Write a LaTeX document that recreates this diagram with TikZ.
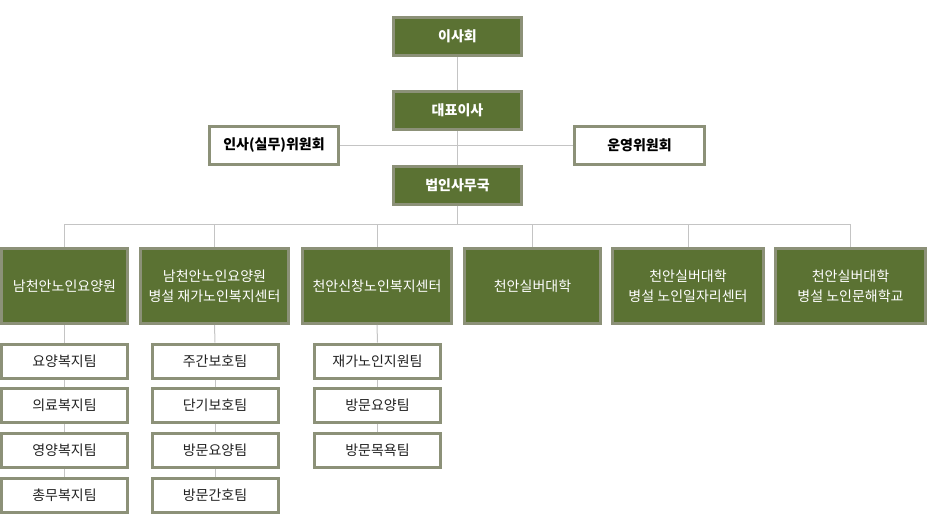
\documentclass[tikz,border=0pt]{standalone}
\usepackage{fontspec}
\setmainfont{Noto Sans CJK KR}
\definecolor{boxfill}{HTML}{5B7233}
\definecolor{boxedge}{HTML}{8C9178}
\definecolor{linkgray}{HTML}{C4C4C4}
\definecolor{teamtext}{HTML}{222222}
\begin{document}
\begin{tikzpicture}[x=1pt,y=-1pt,
  base/.style={draw=boxedge,line width=3pt,inner sep=0pt,align=center,
    font=\fontsize{14pt}{20pt}\selectfont},
  topbox/.style={base,fill=boxfill,text=white,font=\fontsize{14pt}{20pt}\selectfont\bfseries,
    minimum width=128pt,minimum height=38pt},
  combox/.style={base,fill=white,text=black,font=\fontsize{14pt}{20pt}\selectfont\bfseries,
    minimum height=38pt},
  orgbox/.style={base,fill=boxfill,text=white,minimum height=75pt},
  teambox/.style={base,fill=white,text=teamtext,minimum width=126pt,minimum height=34pt},
  link/.style={draw=linkgray,line width=1pt}]
\useasboundingbox (0,0) rectangle (927,530);

\node[topbox] (board) at (457.5,36.5) {이사회};
\node[topbox] (ceo) at (457.5,110.5) {대표이사};
\node[topbox] (office) at (457.5,185) {법인사무국};
\node[combox,minimum width=129pt] (hr) at (274,145.5) {인사(실무)위원회};
\node[combox,minimum width=130pt] (ops) at (639.5,145.5) {운영위원회};

\node[orgbox,minimum width=126pt] (b1) at (64.5,286) {남천안노인요양원};
\node[orgbox,minimum width=148pt] (b2) at (214.5,286) {남천안노인요양원\\병설 재가노인복지센터};
\node[orgbox,minimum width=149pt] (b3) at (377,286) {천안신창노인복지센터};
\node[orgbox,minimum width=136pt] (b4) at (532.5,286) {천안실버대학};
\node[orgbox,minimum width=151pt] (b5) at (688,286) {천안실버대학\\병설 노인일자리센터};
\node[orgbox,minimum width=150pt] (b6) at (850.5,286) {천안실버대학\\병설 노인문해학교};

\node[teambox] (t11) at (64.5,361) {요양복지팀};
\node[teambox] (t12) at (64.5,405.5) {의료복지팀};
\node[teambox] (t13) at (64.5,450.5) {영양복지팀};
\node[teambox] (t14) at (64.5,495.5) {총무복지팀};

\node[teambox] (t21) at (215,361) {주간보호팀};
\node[teambox] (t22) at (215,405.5) {단기보호팀};
\node[teambox] (t23) at (215,450.5) {방문요양팀};
\node[teambox] (t24) at (215,495.5) {방문간호팀};

\node[teambox] (t31) at (377.5,361) {재가노인지원팀};
\node[teambox] (t32) at (377.5,405.5) {방문요양팀};
\node[teambox] (t33) at (377.5,450.5) {방문목욕팀};

\coordinate (bus) at (457.5,224);

\path[link] (board.south) -- (ceo.north);
\path[link] (ceo.south) -- (office.north);
\path[link] (hr.east) -- (ops.west);
\path[link] (office.south) -- (bus);
\path[link] (b1.north |- bus) -- (b6.north |- bus);
\foreach \b in {b1,b2,b3,b4,b5,b6} {
  \path[link] (\b.north |- bus) -- (\b.north);
}
\path[link] (b1.south) -- (t11.north);
\path[link] (t11.south) -- (t12.north);
\path[link] (t12.south) -- (t13.north);
\path[link] (t13.south) -- (t14.north);
\path[link] (b2.south) -- (t21.north);
\path[link] (t21.south) -- (t22.north);
\path[link] (t22.south) -- (t23.north);
\path[link] (t23.south) -- (t24.north);
\path[link] (b3.south) -- (t31.north);
\path[link] (t31.south) -- (t32.north);
\path[link] (t32.south) -- (t33.north);
\end{tikzpicture}
\end{document}
